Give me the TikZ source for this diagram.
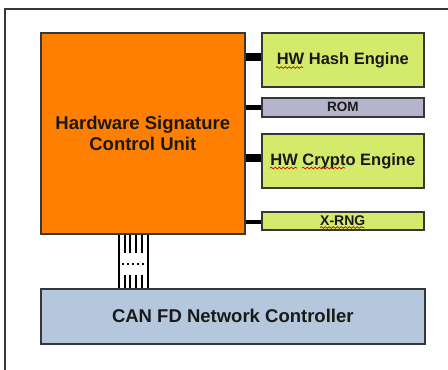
\documentclass[tikz,border=0pt]{standalone}
\usepackage{fontspec}
\setmainfont{Liberation Sans}
\usetikzlibrary{positioning, calc, decorations.pathmorphing}

\definecolor{hsmorange}{RGB}{255,128,0}
\definecolor{enginegreen}{RGB}{212,234,107}
\definecolor{romlilac}{RGB}{181,180,205}
\definecolor{canblue}{RGB}{180,199,220}
\definecolor{edgegray}{RGB}{55,55,55}

\begin{document}
\begin{tikzpicture}[
        x=1pt, y=-1pt,
        font=\bfseries,
        block/.style={draw=edgegray, line width=1.6pt, inner sep=0pt, anchor=north west, text=black!90, minimum width=162},
        link/.style={line width=#1, black},
        spell/.style={red!85!black, line width=0.7pt, decorate, decoration={snake, amplitude=0.9pt, segment length=4pt}}
    ]
        \useasboundingbox (0,0) rectangle (448,370);

        % Page frame
        \draw[edgegray, line width=1.6pt] (448,9) -- (5,9) -- (5,370);

        % Main blocks
        \node[block, fill=hsmorange, minimum width=204, minimum height=201, align=center,
            font=\fontsize{18.5}{20.5}\selectfont\bfseries] (hsm) at (40,32) {Hardware Signature\\Control Unit};
        \node[block, fill=enginegreen, minimum height=54, font=\fontsize{16.5}{19}\selectfont\bfseries] (hash) at (261,32) {HW Hash Engine};
        \node[block, fill=romlilac, minimum height=19, font=\fontsize{13.5}{15}\selectfont\bfseries] (rom) at (261,97) {ROM};
        \node[block, fill=enginegreen, minimum height=54, font=\fontsize{16.5}{19}\selectfont\bfseries] (crypto) at (261,133) {HW Crypto Engine};
        \node[block, fill=enginegreen, minimum height=18, font=\fontsize{14}{16}\selectfont\bfseries] (rng) at (261,211) {X-RNG};
        \node[block, fill=canblue, minimum width=384, minimum height=55, font=\fontsize{18.5}{20.5}\selectfont\bfseries] (can) at (40,288) {CAN FD Network Controller};

        % Links to the engines
        \draw[link=8pt] ([yshift=3pt]hsm.east |- hash.west) -- ([yshift=3pt]hash.west);
        \draw[link=5pt] (hsm.east |- rom.west) -- (rom.west);
        \draw[link=8pt] ([yshift=3pt]hsm.east |- crypto.west) -- ([yshift=3pt]crypto.west);
        \draw[link=4pt] ([yshift=-1pt]hsm.east |- rng.west) -- ([yshift=-1pt]rng.west);

        % Parallel bus to the CAN controller
        \foreach \bx in {119,148}
            \draw[link=2.6pt] (\bx,0 |- hsm.south) -- (\bx,0 |- can.north);
        \foreach \bx in {125,130,136,142} {
            \draw[link=2pt] (\bx,0 |- hsm.south) -- (\bx,253);
            \draw[link=2pt] (\bx,275) -- (\bx,0 |- can.north);
        }
        \foreach \bx in {123,128,133,138,143}
            \fill (\bx-1,263) rectangle (\bx+1,265);

        % Spell-check marks
        \draw[spell] (276,67.5) -- (303,67.5);
        \draw[spell] (270,168) -- (297,168);
        \draw[spell] (302,168) -- (345,168);
        \draw[spell] (320,227.5) -- (364,227.5);

    \end{tikzpicture}
\end{document}
